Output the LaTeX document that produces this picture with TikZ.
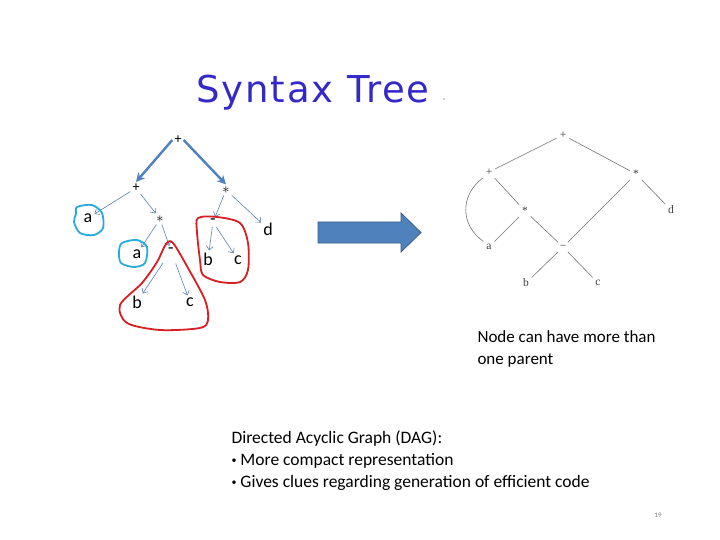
\documentclass[tikz,border=0pt]{standalone}
\usepackage{fontspec}
\setmainfont{Carlito}
\newfontfamily\titlefont[LetterSpace=5]{DejaVu Sans}
\newfontfamily\dagfont{Liberation Serif}
\usetikzlibrary{arrows.meta}
\definecolor{titleblue}{RGB}{52,41,200}
\definecolor{arrowblue}{RGB}{79,129,189}
\definecolor{arrowedge}{RGB}{56,93,138}
\definecolor{thinblue}{RGB}{95,130,175}
\definecolor{penred}{RGB}{215,30,35}
\definecolor{pencyan}{RGB}{40,170,220}
\newcommand{\smallbullet}{\raisebox{2pt}{\fontsize{10}{10}\selectfont•}}
\begin{document}
\begin{tikzpicture}[x=1pt, y=-1pt,
    tnode/.style={inner sep=2pt, font=\fontsize{18}{18}\selectfont},
    dnode/.style={inner sep=2pt, text=black!75, font=\dagfont\fontsize{11.5}{11.5}\selectfont},
    bigarr/.style={-{Stealth[length=9pt,width=9pt]}, arrowblue, line width=2.4pt},
    thinarr/.style={-{Straight Barb[length=4pt,width=7pt]}, thinblue, line width=0.6pt},
    dedge/.style={black!55, line width=0.6pt, shorten <=1pt, shorten >=1pt},
    pen/.style={line width=1.8pt, line join=round}]
  \useasboundingbox (0,0) rectangle (720,540);

  % 1. 标题
  \node[font=\titlefont\fontsize{37}{37}\selectfont, text=titleblue] (title) at (313,93) {Syntax Tree};
  \fill[black!40] (444,99) circle (0.8pt);

  % 2. 语法树
  \node[tnode, font=\fontsize{14}{14}\selectfont] (p1) at (178,140) {+};
  \node[tnode, font=\fontsize{14}{14}\selectfont] (p2) at (136,188) {+};
  \node[tnode, font=\fontsize{14}{14}\selectfont] (m1) at (226,190) {$\ast$};
  \node[tnode] (a1) at (88,218) {a};
  \node[tnode, font=\fontsize{14}{14}\selectfont] (m2) at (160,219) {$\ast$};
  \node[tnode] (a2) at (137,254) {a};
  \node[tnode] (s1) at (171,251) {-};
  \node[tnode] (b1) at (137,302) {b};
  \node[tnode] (c1) at (190,302) {c};
  \node[tnode] (s2) at (213,222) {-};
  \node[tnode] (d1) at (268,229) {d};
  \node[tnode] (b2) at (208,259) {b};
  \node[tnode] (c2) at (238,260) {c};

  \draw[bigarr] (p1.west) -- (p2.north);
  \draw[bigarr] (p1.east) -- (m1.north);
  \draw[thinarr] (p2) -- (a1);
  \draw[thinarr] (p2) -- (m2);
  \draw[thinarr] (m2) -- (a2);
  \draw[thinarr] (m2) -- (s1);
  \draw[thinarr, shorten <=8pt] (s1) -- (b1);
  \draw[thinarr, shorten <=8pt] (s1) -- (c1);
  \draw[thinarr] (m1) -- (s2);
  \draw[thinarr] (m1) -- (d1);
  \draw[thinarr] (s2) -- (b2);
  \draw[thinarr] (s2) -- (c2);

  % 3. 圈
  \draw[pen, pencyan] plot[smooth cycle] coordinates {(77,207) (92,205) (102,213) (103,228) (94,235) (80,233) (74,222) (76,214)};
  \draw[pen, pencyan] plot[smooth cycle] coordinates {(122,243) (137,240) (147,247) (145,263) (134,267) (121,263) (119,252)};
  \draw[pen, penred] plot[smooth cycle] coordinates {(173,243) (188,268) (205,300) (208,320) (200,328) (160,330) (127,323) (120,305) (142,283) (157,262) (166,244)};
  \draw[pen, penred] plot[smooth cycle] coordinates {(198,218) (217,217) (240,223) (248,243) (248,270) (240,282) (220,282) (203,275) (200,260) (197,232)};

  % 4. 大箭头
  \filldraw[fill=arrowblue, draw=arrowedge, line width=0.8pt] (318,222) -- (401,222) -- (401,213) -- (421,232.5) -- (401,252) -- (401,243) -- (318,243) -- cycle;

  % 5. DAG
  \node[dnode] (tp) at (563,135) {+};
  \node[dnode] (lp) at (489,172) {+};
  \node[dnode] (rm) at (636,174) {*};
  \node[dnode] (mm) at (525,211) {*};
  \node[dnode] (dd) at (671,210) {d};
  \node[dnode] (aa) at (489,247) {a};
  \node[dnode] (ss) at (563,247) {−};
  \node[dnode] (bb) at (526,283) {b};
  \node[dnode] (cc) at (598,283) {c};

  \draw[dedge] (tp) -- (lp);
  \draw[dedge] (tp) -- (rm);
  \draw[dedge] (lp) -- (mm);
  \draw[dedge] (lp.south west) .. controls (460,195) and (460,225) .. (aa.north west);
  \draw[dedge] (mm) -- (aa);
  \draw[dedge] (mm) -- (ss);
  \draw[dedge] (rm) -- (ss);
  \draw[dedge] (rm) -- (dd);
  \draw[dedge] (ss) -- (bb);
  \draw[dedge] (ss) -- (cc);

  % 6. 文字
  \node[anchor=west, align=left, font=\fontsize{17}{22}\selectfont] (note) at (474,349) {Node can have more than\\one parent};
  \node[anchor=west, align=left, font=\fontsize{17.5}{22}\selectfont] (dag) at (228,461) {Directed Acyclic Graph (DAG):\\\smallbullet{} More compact representation\\\smallbullet{} Gives clues regarding generation of efficient code};
  \node[font=\fontsize{7}{7}\selectfont, text=black!50] (page) at (658,515) {19};
\end{tikzpicture}
\end{document}
